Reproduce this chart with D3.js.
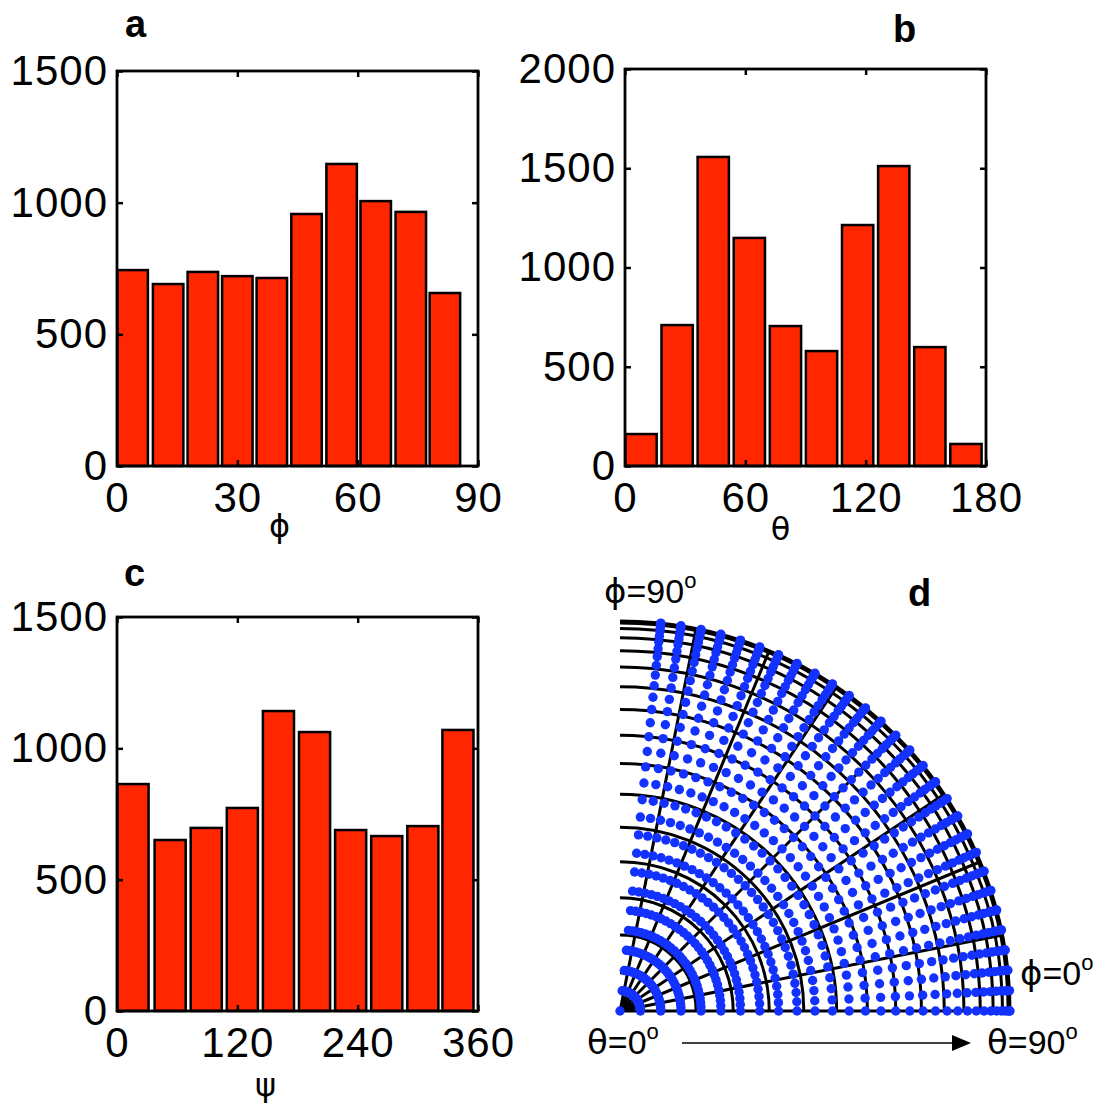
<!DOCTYPE html>
<html>
<head>
<meta charset="utf-8">
<script src="https://cdn.jsdelivr.net/npm/d3@7"></script>
<style>
  body { margin: 0; background: #fff; }
  .tick text { font-family: "Liberation Sans", Arial, sans-serif; font-size: 42px; fill: #000; letter-spacing: 1px; }
</style>
</head>
<body>
<script>
// histogram data (bin centre in degrees, counts)
var phiBins = [3.9, 12.75, 21.4, 30, 38.6, 47.25, 56, 64.5, 73.25, 81.75];
var phiCounts = [744, 691, 737, 721, 714, 957, 1147, 1006, 965, 657];
var thetaBins = [8, 26, 44, 62, 80, 98, 116, 134, 152, 170];
var thetaCounts = [161, 710, 1557, 1149, 705, 579, 1214, 1511, 599, 111];
var psiBins = [16, 53, 89, 125, 161, 197, 233, 269, 305, 340];
var psiCounts = [864, 651, 697, 773, 1142, 1062, 689, 666, 704, 1070];

var phiTicks = [0, 30, 60, 90];
var thetaTicks = [0, 60, 120, 180];
var psiTicks = [0, 120, 240, 360];
var countTicksA = [0, 500, 1000, 1500];
var countTicksB = [0, 500, 1000, 1500, 2000];

// panel d: sampled orientations (deg) and sphere mesh lines (deg)
var dotTheta = [3, 6, 9, 12, 15, 18, 21, 24, 27, 30, 33, 36, 39, 42, 45, 48, 51, 54, 57, 60, 63, 66, 69, 72, 75, 78, 81, 84, 87, 90];
var dotPhi = [0, 3, 6, 9, 12, 15, 18, 21, 24, 27, 30, 33, 36, 39, 42, 45, 48, 51, 54, 57, 60, 63, 66, 69, 72, 75, 78, 81, 84];
var meshTheta = [5.625, 11.25, 16.875, 22.5, 28.125, 33.75, 39.375, 45, 50.625, 56.25, 61.875, 67.5, 73.125, 78.75, 84.375, 90];
var meshPhi = [0, 11.25, 22.5, 33.75, 45, 56.25, 67.5, 78.75];

var svg = d3.select("body").append("svg")
  .attr("width", 1102).attr("height", 1112);

var barColor = "#ff2600";
var fmt = d3.format("d");

function drawHist(p) {
  var x = d3.scaleLinear().domain(p.xDomain).range([p.left, p.right]);
  var y = d3.scaleLinear().domain(p.yDomain).range([p.bottom, p.top]);
  var g = svg.append("g");

  g.selectAll("rect.bar").data(p.values).enter().append("rect")
    .attr("class", "bar")
    .attr("x", function(d, i) { return x(p.centers[i] - p.barW / 2); })
    .attr("width", function(d, i) { return x(p.centers[i] + p.barW / 2) - x(p.centers[i] - p.barW / 2); })
    .attr("y", function(d) { return y(d); })
    .attr("height", function(d) { return y(0) - y(d); })
    .attr("fill", barColor)
    .attr("stroke", "#000")
    .attr("stroke-width", 2.5);

  var ax = [
    [d3.axisBottom(x).tickValues(p.xTicks).tickSize(-6).tickPadding(16).tickFormat(fmt), p.bottom, "x"],
    [d3.axisTop(x).tickValues(p.xTicks).tickSize(-6).tickFormat(""), p.top, "x"],
    [d3.axisLeft(y).tickValues(p.yTicks).tickSize(-6).tickPadding(9).tickFormat(fmt), p.left, "y"],
    [d3.axisRight(y).tickValues(p.yTicks).tickSize(-6).tickFormat(""), p.right, "y"]
  ];
  ax.forEach(function(a) {
    var t = a[2] == "x" ? "translate(0," + a[1] + ")" : "translate(" + a[1] + ",0)";
    var gg = g.append("g").attr("transform", t).call(a[0]);
    gg.select(".domain").remove();
    gg.selectAll(".tick line").attr("stroke", "#000").attr("stroke-width", 2.5);
  });

  g.append("rect")
    .attr("x", p.left).attr("y", p.top)
    .attr("width", p.right - p.left).attr("height", p.bottom - p.top)
    .attr("fill", "none").attr("stroke", "#000").attr("stroke-width", 2.8);

  g.append("text")
    .attr("x", (p.left + p.right) / 2 + p.labelDx).attr("y", p.labelY)
    .attr("text-anchor", "middle")
    .style("font-family", "DejaVu Sans, sans-serif").style("font-size", "32px")
    .text(p.label);

  g.append("text")
    .attr("x", p.tagX).attr("y", p.tagY)
    .style("font-family", "Liberation Sans, Arial, sans-serif")
    .style("font-size", "38px").style("font-weight", "bold")
    .text(p.tag);
}

drawHist({left: 117, right: 478, top: 71, bottom: 466, xDomain: [0, 90], yDomain: [0, 1500],
  xTicks: phiTicks, yTicks: countTicksA, centers: phiBins, values: phiCounts, barW: 7.6,
  label: "\u03D5", labelDx: -18, labelY: 537, tag: "a", tagX: 125, tagY: 37});

drawHist({left: 625, right: 986, top: 69, bottom: 466, xDomain: [0, 180], yDomain: [0, 2000],
  xTicks: thetaTicks, yTicks: countTicksB, centers: thetaBins, values: thetaCounts, barW: 15.6,
  label: "\u03B8", labelDx: -25, labelY: 540, tag: "b", tagX: 893, tagY: 42});

drawHist({left: 117, right: 478, top: 617, bottom: 1011, xDomain: [0, 360], yDomain: [0, 1500],
  xTicks: psiTicks, yTicks: countTicksA, centers: psiBins, values: psiCounts, barW: 31,
  label: "\u03C8", labelDx: -32, labelY: 1096, tag: "c", tagX: 124, tagY: 586});

// ---- panel d: orientation map, r = R sin(theta), angle = phi
var cx = 620, cy = 1011, R = 390;
var rad = Math.PI / 180;
var rScale = function(th) { return R * Math.sin(th * rad); };
var gd = svg.append("g");

meshTheta.forEach(function(th) {
  var r = rScale(th);
  var p = d3.path();
  p.moveTo(cx + r, cy);
  p.arc(cx, cy, r, 0, -Math.PI / 2, true);
  gd.append("path").attr("d", p.toString())
    .attr("fill", "none").attr("stroke", "#000").attr("stroke-width", 3);
});
gd.selectAll("line.spoke").data(meshPhi).enter().append("line")
  .attr("x1", cx).attr("y1", cy)
  .attr("x2", function(f) { return cx + R * Math.cos(f * rad); })
  .attr("y2", function(f) { return cy - R * Math.sin(f * rad); })
  .attr("stroke", "#000").attr("stroke-width", 3);

var dots = [{t: 0, f: 0}];
dotTheta.forEach(function(t) { dotPhi.forEach(function(f) { dots.push({t: t, f: f}); }); });
gd.selectAll("circle").data(dots).enter().append("circle")
  .attr("cx", function(d) { return cx + rScale(d.t) * Math.cos(d.f * rad); })
  .attr("cy", function(d) { return cy - rScale(d.t) * Math.sin(d.f * rad); })
  .attr("r", 4.7)
  .attr("fill", "#1432ff");

function degLabel(x, y, sym, val) {
  var t = svg.append("text").attr("x", x).attr("y", y)
    .style("font-family", "Liberation Sans, Arial, sans-serif").style("font-size", "34px");
  t.append("tspan").style("font-family", "DejaVu Sans, sans-serif").text(sym);
  t.append("tspan").text("=" + val);
  t.append("tspan").attr("dy", -15).style("font-size", "22px").text("o");
}
degLabel(604, 603, "\u03D5", "90");
degLabel(1020, 985, "\u03D5", "0");
degLabel(587, 1054, "\u03B8", "0");
degLabel(987, 1054, "\u03B8", "90");

svg.append("line").attr("x1", 682).attr("y1", 1043).attr("x2", 955).attr("y2", 1043)
  .attr("stroke", "#000").attr("stroke-width", 1.6);
svg.append("path").attr("d", "M952,1035 L971,1043 L952,1051 Z").attr("fill", "#000");

svg.append("text").attr("x", 908).attr("y", 606)
  .style("font-family", "Liberation Sans, Arial, sans-serif")
  .style("font-size", "38px").style("font-weight", "bold").text("d");
</script>
</body>
</html>
